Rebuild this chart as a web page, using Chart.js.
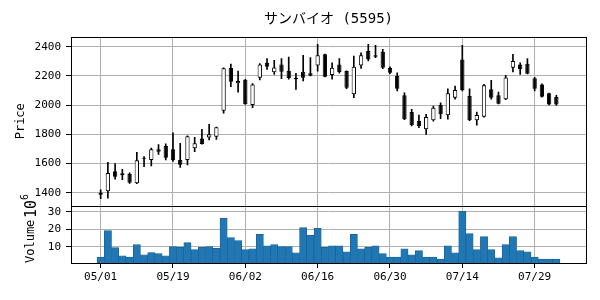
<!DOCTYPE html>
<html>
<head>
<meta charset="utf-8">
<script src="https://cdn.jsdelivr.net/npm/chart.js@4.4.1/dist/chart.umd.min.js"></script>
<style>
  html, body { margin: 0; padding: 0; background: #fff; }
</style>
</head>
<body>
<canvas id="chart" width="600" height="300"></canvas>
<script>
// 日付 (営業日)
const dates = [
  '05/01','05/02','05/07','05/08','05/09','05/12','05/13','05/14','05/15','05/16',
  '05/19','05/20','05/21','05/22','05/23','05/26','05/27','05/28','05/29','05/30',
  '06/02','06/03','06/04','06/05','06/06','06/09','06/10','06/11','06/12','06/13',
  '06/16','06/17','06/18','06/19','06/20','06/23','06/24','06/25','06/26','06/27',
  '06/30','07/01','07/02','07/03','07/04','07/07','07/08','07/09','07/10','07/11',
  '07/14','07/15','07/16','07/17','07/18','07/22','07/23','07/24','07/25','07/28',
  '07/29','07/30','07/31','08/01'
];

// 四本値
const opens = [
  1386,1410,1547,1533,1530,1464,1633,1624,1697,1720,
  1697,1624,1624,1704,1772,1779,1784,1962,2254,2149,
  2174,2000,2188,2290,2225,2279,2236,2186,2228,2218,
  2272,2348,2206,2279,2233,2074,2272,2370,2341,2366,
  2254,2199,2067,1953,1891,1834,1896,2001,1930,2051,
  2313,2062,1896,1921,2108,2067,2040,2256,2279,2284,
  2184,2142,2081,2056
];
const highs = [
  1420,1608,1599,1560,1537,1677,1648,1706,1729,1734,
  1811,1738,1790,1779,1834,1868,1850,2255,2281,2233,
  2176,2148,2285,2318,2307,2318,2329,2218,2341,2325,
  2416,2350,2290,2318,2235,2336,2359,2416,2409,2382,
  2262,2222,2085,1971,1932,1937,1994,2016,2112,2131,
  2409,2112,1953,2142,2170,2090,2204,2348,2290,2318,
  2190,2145,2083,2067
];
const lows = [
  1360,1362,1492,1490,1463,1462,1578,1583,1663,1624,
  1615,1574,1590,1681,1732,1761,1765,1944,2126,2088,
  2005,1982,2172,2245,2211,2181,2177,2108,2165,2200,
  2233,2193,2177,2218,2112,2051,2252,2302,2325,2250,
  2215,2097,1900,1858,1845,1800,1890,1907,1903,2040,
  2098,1893,1862,1918,2040,2008,2038,2227,2211,2213,
  2097,2055,2002,1999
];
const closes = [
  1400,1535,1510,1520,1468,1622,1640,1697,1681,1640,
  1622,1592,1786,1738,1734,1800,1848,2252,2160,2165,
  2008,2142,2279,2263,2258,2229,2186,2178,2188,2202,
  2341,2195,2256,2227,2119,2263,2341,2313,2332,2256,
  2222,2112,1903,1862,1857,1918,1982,1937,2081,2103,
  2101,1896,1932,2136,2051,2010,2190,2302,2245,2215,
  2112,2058,2005,2005
];
// 出来高 (百万株)
const volumes = [
  4.3,19.3,9.6,5.0,4.3,11.3,5.6,6.9,6.2,5.0,
  10.2,9.8,12.5,8.5,9.8,10.2,9.2,26.2,15.3,13.6,
  8.5,9.0,17.2,10.7,11.3,10.2,10.2,6.7,21.0,16.6,
  20.5,9.8,10.7,10.7,7.3,17.2,9.0,9.8,10.7,6.2,
  4.3,4.3,9.0,5.6,7.9,4.3,4.3,3.1,10.7,6.7,
  30.2,17.6,8.5,15.9,8.5,3.9,11.3,15.9,7.9,7.3,
  4.3,3.1,3.1,3.1
];

// 目盛り
const priceTicks = [1400, 1600, 1800, 2000, 2200, 2400];
const volumeTicks = [10, 20, 30];
const dateTicks = [0, 10, 20, 30, 40, 50, 60];

const mono = "'DejaVu Sans Mono', monospace";
Chart.defaults.font.family = mono;
Chart.defaults.font.size = 11;
Chart.defaults.color = '#000';

const idx = dates.map((d, i) => i);
const gridColor = '#b0b0b0';

// パネルの枠と 10^6 表示
const panelFrame = {
  id: 'panelFrame',
  afterDraw(chart) {
    const c = chart.ctx;
    const a = chart.chartArea;
    const left = Math.round(a.left) + 0.5;
    const right = Math.round(a.right) + 0.5;
    const top = Math.round(a.top) + 0.5;
    const mid = Math.round(chart.scales.y.bottom) + 0.5;
    const bottom = Math.round(a.bottom) + 0.5;
    c.save();
    c.strokeStyle = '#000';
    c.lineWidth = 1;
    c.strokeRect(left, top, right - left, bottom - top);
    c.beginPath();
    c.moveTo(left, mid);
    c.lineTo(right, mid);
    c.stroke();
    // offset text
    const yv = chart.scales.yv;
    c.translate(36, yv.top + 12);
    c.rotate(-Math.PI / 2);
    c.fillStyle = '#000';
    c.textBaseline = 'alphabetic';
    c.textAlign = 'left';
    c.font = '15px ' + mono;
    c.fillText('10', 0, 0);
    c.font = '10px ' + mono;
    c.fillText('6', 18, -8);
    c.restore();
  }
};

new Chart(document.getElementById('chart').getContext('2d'), {
  type: 'bar',
  data: {
    datasets: [
      {
        label: 'body',
        data: idx.map(i => ({ x: i, y: [opens[i], closes[i]] })),
        yAxisID: 'y',
        grouped: false,
        order: 0,
        backgroundColor: c => closes[c.dataIndex] >= opens[c.dataIndex] ? '#fff' : '#000',
        borderColor: '#000',
        borderWidth: 1,
        borderSkipped: false,
        categoryPercentage: 1,
        barPercentage: 0.6,
        minBarLength: 1
      },
      {
        label: 'wick',
        data: idx.map(i => ({ x: i, y: [lows[i], highs[i]] })),
        yAxisID: 'y',
        grouped: false,
        order: 1,
        backgroundColor: '#000',
        barThickness: 1
      },
      {
        label: 'volume',
        data: idx.map(i => ({ x: i, y: volumes[i] })),
        yAxisID: 'yv',
        grouped: false,
        order: 2,
        backgroundColor: '#1f77b4',
        borderColor: '#1b5f90',
        borderWidth: 0.7,
        categoryPercentage: 1,
        barPercentage: 1
      }
    ]
  },
  options: {
    responsive: false,
    animation: false,
    layout: { padding: { top: 0, right: 14, bottom: 0, left: 0 } },
    plugins: {
      legend: { display: false },
      tooltip: { enabled: false },
      title: {
        display: true,
        fullSize: false,
        text: 'サンバイオ (5595)',
        color: '#000',
        font: { family: "'DejaVu Sans Mono', 'Noto Sans CJK JP'", size: 14, weight: 'normal' },
        padding: { top: 11, bottom: 8.7 }
      }
    },
    scales: {
      x: {
        type: 'linear',
        min: -4.1,
        max: 67.1,
        offset: false,
        afterBuildTicks: s => { s.ticks = dateTicks.map(v => ({ value: v })); },
        afterFit: s => { s.height = 37; },
        ticks: { callback: v => dates[v], maxRotation: 0, autoSkip: false, padding: 3 },
        grid: { color: gridColor, tickColor: '#000', tickLength: 5, offset: false },
        border: { display: false }
      },
      yv: {
        position: 'left',
        stack: 'panels',
        stackWeight: 57,
        min: 0.3 * Math.min(...volumes),
        max: 1.1 * Math.max(...volumes),
        afterBuildTicks: s => { s.ticks = volumeTicks.map(v => ({ value: v })); },
        afterFit: s => { s.width = 71; },
        ticks: { padding: 5, callback: v => String(v) },
        grid: { color: gridColor, tickColor: '#000', tickLength: 5 },
        border: { display: false },
        title: { display: true, text: 'Volume', align: 'start', font: { size: 12 }, padding: { top: 24, bottom: 0 } }
      },
      y: {
        position: 'left',
        stack: 'panels',
        stackWeight: 169.5,
        min: 1309,
        max: 2470,
        afterBuildTicks: s => { s.ticks = priceTicks.map(v => ({ value: v })); },
        afterFit: s => { s.width = 71; },
        ticks: { padding: 5, callback: v => String(v) },
        grid: { color: gridColor, tickColor: '#000', tickLength: 5 },
        border: { display: false },
        title: { display: true, text: 'Price', font: { size: 12 }, padding: { top: 14, bottom: 0 } }
      }
    }
  },
  plugins: [panelFrame]
});
</script>
</body>
</html>
